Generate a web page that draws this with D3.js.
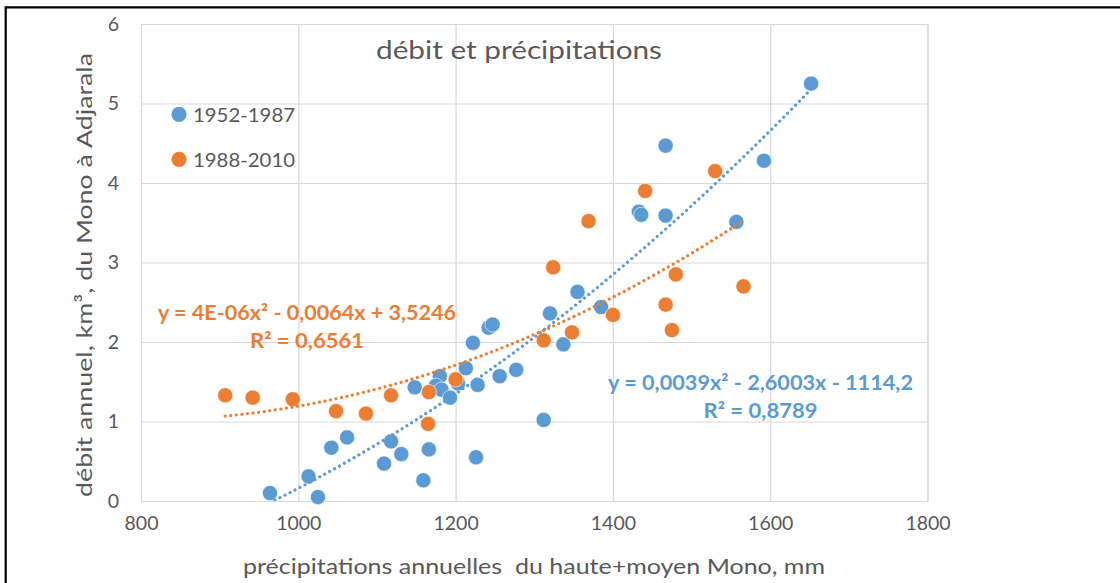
<!DOCTYPE html>
<html><head><meta charset="utf-8">
<script src="https://cdn.jsdelivr.net/npm/d3@7"></script>
<style>
body{margin:0;background:#fff}
svg{display:block}
text{font-family:Lato,"Open Sans",sans-serif}
</style>
</head><body>
<svg id="c" width="1120" height="583"></svg>
<script>
// ---- data ----
const seriesNames = ["1952-1987", "1988-2010"];
const blueX = [1652,1592,1467,1433,1436,1467,1557,1355,1385,1320,1242,1247,1222,1337,1277,1256,1213,1228,1180,1148,1175,1182,1203,1193,1312,964,1025,1013,1042,1062,1109,1118,1131,1159,1166,1226];
const blueY = [5.25,4.28,4.47,3.64,3.60,3.59,3.51,2.63,2.44,2.36,2.18,2.22,1.99,1.97,1.65,1.57,1.67,1.46,1.57,1.43,1.45,1.40,1.48,1.30,1.02,0.10,0.05,0.31,0.67,0.80,0.47,0.75,0.59,0.26,0.65,0.55];
const orangeX = [907,942,993,1048,1086,1118,1166,1165,1200,1312,1348,1324,1369,1400,1441,1467,1475,1480,1530,1566];
const orangeY = [1.33,1.30,1.28,1.13,1.10,1.33,1.37,0.97,1.53,2.02,2.12,2.94,3.52,2.34,3.90,2.47,2.15,2.85,4.15,2.70];
const xTickValues = [800,1000,1200,1400,1600,1800];
const yTickValues = [0,1,2,3,4,5,6];
const titleText = "débit et précipitations";
const xAxisTitle = "précipitations annuelles  du haute+moyen Mono, mm";
const yAxisTitle = "débit annuel, km³, du Mono à Adjarala";
const blueEquation = ["y = 0,0039x² - 2,6003x - 1114,2", "R² = 0,8789"];
const orangeEquation = ["y = 4E-06x² - 0,0064x + 3,5246", "R² = 0,6561"];

const BLUE = "#5B9BD5", ORANGE = "#ED7D31", GREY = "#595959", GRID = "#D9D9D9";

const svg = d3.select("#c");
const L = 141, R = 927.5, T = 24, B = 501;
const x = d3.scaleLinear().domain([800,1800]).range([L,R]);
const y = d3.scaleLinear().domain([0,6]).range([B,T]);

// outer frame (top + left visible)
svg.append("line").attr("x1",5.7).attr("x2",1120).attr("y1",7.3).attr("y2",7.3).attr("stroke","#000").attr("stroke-width",2.2);
svg.append("line").attr("x1",5.7).attr("x2",5.7).attr("y1",6.2).attr("y2",583).attr("stroke","#000").attr("stroke-width",2.2);

// gridlines
const gx = svg.append("g").attr("transform",`translate(0,${B})`)
  .call(d3.axisBottom(x).tickValues(xTickValues).tickSize(-(B-T)).tickFormat(d=>d).tickPadding(24));
gx.select(".domain").attr("stroke",GRID);
gx.selectAll(".tick line").attr("stroke",GRID).attr("stroke-width",1.2);
gx.selectAll(".tick text").attr("fill",GREY).style("font-size","19.5px").attr("dy","0.25em");

const gy = svg.append("g").attr("transform",`translate(${L},0)`)
  .call(d3.axisLeft(y).tickValues(yTickValues).tickSize(-(R-L)).tickFormat(d=>d).tickPadding(22));
gy.select(".domain").attr("stroke",GRID);
gy.selectAll(".tick line").attr("stroke",GRID).attr("stroke-width",1.2);
gy.selectAll(".tick text").attr("fill",GREY).style("font-size","19.5px");

// clip
svg.append("clipPath").attr("id","plotclip").append("rect").attr("x",L).attr("y",T).attr("width",R-L).attr("height",B-T);

// markers
function drawPoints(xs, ys, color){
  svg.append("g").selectAll("circle").data(xs.map((v,i)=>[v,ys[i]])).join("circle")
    .attr("cx",d=>x(d[0])).attr("cy",d=>y(d[1])).attr("r",7.6)
    .attr("fill",color).attr("stroke","#fff").attr("stroke-width",0.6);
}
drawPoints(blueX, blueY, BLUE);
drawPoints(orangeX, orangeY, ORANGE);

// polynomial (order 2) least-squares trendline computed from the data
function quadFit(xs, ys){
  const c = d3.mean(xs);
  let s = [0,0,0,0,0], t = [0,0,0];
  xs.forEach((xv,i)=>{
    const u = xv - c, v = ys[i];
    let p = 1;
    for(let k=0;k<5;k++){ s[k]+=p; if(k<3) t[k]+=p*v; p*=u; }
  });
  const M = [[s[0],s[1],s[2]],[s[1],s[2],s[3]],[s[2],s[3],s[4]]];
  const det = m => m[0][0]*(m[1][1]*m[2][2]-m[1][2]*m[2][1]) - m[0][1]*(m[1][0]*m[2][2]-m[1][2]*m[2][0]) + m[0][2]*(m[1][0]*m[2][1]-m[1][1]*m[2][0]);
  const D = det(M);
  const coef = [0,1,2].map(j=>{
    const m = M.map((row,i)=>row.map((val,k)=>k===j?t[i]:val));
    return det(m)/D;
  });
  return xv => { const u = xv - c; return coef[0] + coef[1]*u + coef[2]*u*u; };
}
function drawTrend(xs, ys, color){
  const f = quadFit(xs, ys);
  const [x0,x1] = d3.extent(xs);
  const pts = d3.range(0,201).map(i=>{ const xv = x0 + (x1-x0)*i/200; return [xv, f(xv)]; });
  svg.append("path").attr("clip-path","url(#plotclip)")
    .attr("d", d3.line().x(d=>x(d[0])).y(d=>y(d[1]))(pts))
    .attr("fill","none").attr("stroke",color).attr("stroke-width",3.2)
    .attr("stroke-linecap","round").attr("stroke-dasharray","0.01 5.6");
}
drawTrend(blueX, blueY, BLUE);
drawTrend(orangeX, orangeY, ORANGE);

// title
svg.append("text").attr("x",519).attr("y",58.5).attr("text-anchor","middle")
  .attr("fill",GREY).style("font-size","25px").attr("textLength",286).attr("lengthAdjust","spacingAndGlyphs").text(titleText);

// axis titles
svg.append("text").attr("x",534).attr("y",574).attr("text-anchor","middle")
  .attr("fill",GREY).style("font-size","22px").style("white-space","pre")
  .attr("textLength",582).attr("lengthAdjust","spacingAndGlyphs").text(xAxisTitle);
svg.append("text").attr("transform","translate(92,275) rotate(-90)").attr("text-anchor","middle")
  .attr("fill",GREY).style("font-size","22px")
  .attr("textLength",444).attr("lengthAdjust","spacingAndGlyphs").text(yAxisTitle);

// legend
const legend = svg.append("g");
[[seriesNames[0],BLUE,114.3],[seriesNames[1],ORANGE,159.3]].forEach(([name,col,cy])=>{
  legend.append("circle").attr("cx",179).attr("cy",cy).attr("r",7.6).attr("fill",col);
  legend.append("text").attr("x",193).attr("y",cy+7.6).attr("fill",GREY).style("font-size","20px")
    .attr("textLength",102).attr("lengthAdjust","spacingAndGlyphs").text(name);
});

// equations
function eq(lines, cx, y0, y1, w0, col){
  svg.append("text").attr("x",cx).attr("y",y0).attr("text-anchor","middle").attr("fill",col)
    .style("font-size","20px").style("font-weight","bold")
    .attr("textLength",w0).attr("lengthAdjust","spacingAndGlyphs").text(lines[0]);
  svg.append("text").attr("x",cx).attr("y",y1).attr("text-anchor","middle").attr("fill",col)
    .style("font-size","20px").style("font-weight","bold")
    .attr("textLength",114).attr("lengthAdjust","spacingAndGlyphs").text(lines[1]);
}
eq(orangeEquation, 307, 320, 348, 298, ORANGE);
eq(blueEquation, 760.5, 389.5, 418, 305, BLUE);
</script>
</body></html>
